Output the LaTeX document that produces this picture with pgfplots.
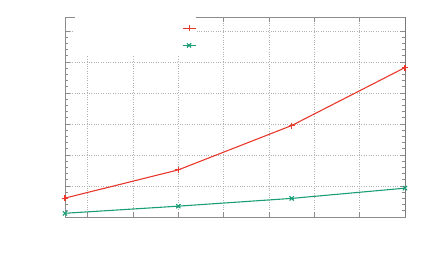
\documentclass[border=0pt]{standalone}
\usepackage{pgfplots}
\pgfplotsset{compat=1.18}
\definecolor{cred}{RGB}{232,56,44}
\definecolor{cgreen}{RGB}{27,158,119}
\definecolor{axgray}{RGB}{140,140,140}
\begin{document}
\begin{tikzpicture}
\path[use as bounding box] (0,0) rectangle (432bp,267bp);
\begin{axis}[
  at={(65bp,50bp)}, anchor=south west,
  scale only axis, width=340bp, height=200bp,
  xmin=0, xmax=3, ymin=0, ymax=6.45,
  xtick={0.2,0.6,1.0,1.4,1.8,2.2,2.6,3.0},
  ytick={0,1,2,3,4,5,6},
  minor y tick num=4,
  xticklabels={}, yticklabels={},
  tick align=inside,
  major tick length=5bp, minor tick length=3bp,
  every tick/.style={axgray, line width=0.6pt},
  axis line style={axgray, line width=0.8pt},
  grid=major,
  major grid style={dotted, gray!60, line width=0.5pt},
  legend plot pos=right,
  legend cell align=left,
  legend style={at={(0.029,1)}, anchor=north west, draw=none, fill=white,
    inner xsep=0pt, inner ysep=2pt, row sep=0pt, font=\small},
  legend image code/.code={
    \draw[mark repeat=2,mark phase=2,#1] plot coordinates {(0bp,0bp) (6.5bp,0bp) (13bp,0bp)};
  },
]
\addplot[cred, line width=1.1pt, mark=+, mark size=3pt] coordinates {
  (0,0.61) (1,1.52) (2,2.95) (3,4.82)};
\addlegendentry{\rule[-3bp]{0pt}{16bp}\hspace*{103bp}}
\addplot[cgreen, line width=1.1pt, mark=x, mark size=3pt] coordinates {
  (0,0.12) (1,0.35) (2,0.60) (3,0.93)};
\addlegendentry{\rule[-5bp]{0pt}{15bp}\hspace*{103bp}}
\draw[black, line width=0.8pt] (rel axis cs:1,0) -- (rel axis cs:1,1);
\end{axis}
\end{tikzpicture}
\end{document}
